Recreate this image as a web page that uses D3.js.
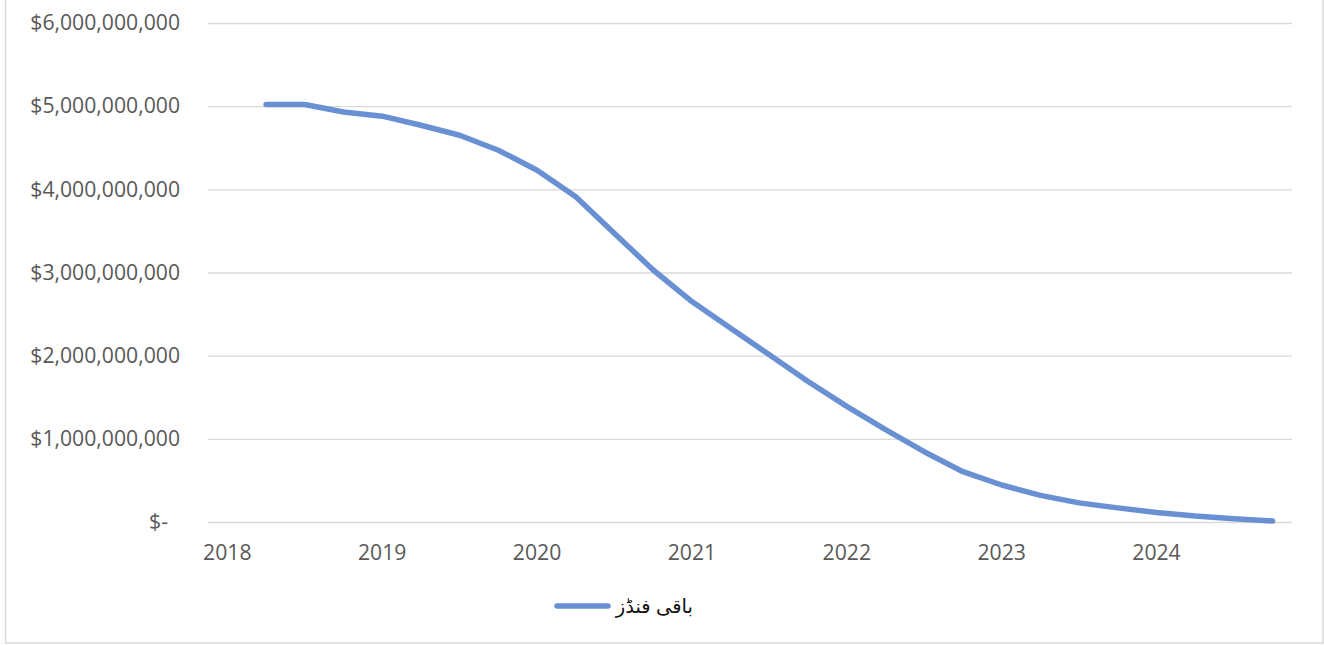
<!DOCTYPE html>
<html>
<head>
<meta charset="utf-8">
<script src="https://cdn.jsdelivr.net/npm/d3@7"></script>
<style>
  html, body { margin: 0; padding: 0; background: #fff; }
  svg { display: block; }
</style>
</head>
<body>
<svg id="chart" width="1324" height="645"></svg>
<script>
// Quarterly categories (the axis shows the year at each first quarter)
const quarters = [
  "2018Q1","2018Q2","2018Q3","2018Q4",
  "2019Q1","2019Q2","2019Q3","2019Q4",
  "2020Q1","2020Q2","2020Q3","2020Q4",
  "2021Q1","2021Q2","2021Q3","2021Q4",
  "2022Q1","2022Q2","2022Q3","2022Q4",
  "2023Q1","2023Q2","2023Q3","2023Q4",
  "2024Q1","2024Q2","2024Q3","2024Q4"
];
const yearLabels = {
  "2018Q1": "2018", "2019Q1": "2019", "2020Q1": "2020", "2021Q1": "2021",
  "2022Q1": "2022", "2023Q1": "2023", "2024Q1": "2024"
};
// Remaining funds (USD)
const remainingFunds = [
  null, 5.02e9, 5.02e9, 4.93e9,
  4.88e9, 4.77e9, 4.65e9, 4.47e9,
  4.23e9, 3.91e9, 3.47e9, 3.03e9,
  2.65e9, 2.33e9, 2.01e9, 1.69e9,
  1.39e9, 1.11e9, 0.845e9, 0.605e9,
  0.445e9, 0.32e9, 0.23e9, 0.17e9,
  0.115e9, 0.072e9, 0.04e9, 0.012e9
];
const yTicks = [0, 1e9, 2e9, 3e9, 4e9, 5e9, 6e9];
const yTickLabels = ["$-", "$1,000,000,000", "$2,000,000,000", "$3,000,000,000",
                     "$4,000,000,000", "$5,000,000,000", "$6,000,000,000"];
const seriesName = "باقی فنڈز";

const svg = d3.select("#chart");
const plot = { left: 208, right: 1292, top: 23, bottom: 522 };
const lineColor = "#6890d2";
const gridColor = "#d9d9d9";
const textColor = "#595959";
const font = "'Open Sans', 'Noto Sans', sans-serif";

// chart border
svg.append("rect")
  .attr("x", 5.5).attr("y", -2)
  .attr("width", 1317.5).attr("height", 645)
  .attr("fill", "none").attr("stroke", gridColor).attr("stroke-width", 1.5);

const x = d3.scaleBand().domain(quarters).range([plot.left, plot.right]).paddingInner(0).paddingOuter(0);
const y = d3.scaleLinear().domain([0, 6e9]).range([plot.bottom, plot.top]);

// gridlines via axis
const yAxis = d3.axisLeft(y)
  .tickValues(yTicks)
  .tickSize(-(plot.right - plot.left))
  .tickPadding(28)
  .tickFormat((d, i) => yTickLabels[i]);

const gy = svg.append("g").attr("transform", `translate(${plot.left},0)`).call(yAxis);
gy.select(".domain").remove();
gy.selectAll(".tick line").attr("stroke", gridColor).attr("stroke-width", 1.3);
gy.selectAll(".tick text")
  .attr("fill", textColor)
  .style("font-family", font)
  .style("font-size", "21.2px")
  .attr("dx", d => d === 0 ? -12 : 0);

// x axis labels
const xAxis = d3.axisBottom(x)
  .tickValues(quarters.filter(q => yearLabels[q]))
  .tickSize(0)
  .tickPadding(23)
  .tickFormat(q => yearLabels[q]);
const gx = svg.append("g").attr("transform", `translate(0,${plot.bottom})`).call(xAxis);
gx.select(".domain").remove();
gx.selectAll(".tick text")
  .attr("fill", textColor)
  .style("font-family", font)
  .style("font-size", "21.2px");

// line
const pts = quarters.map((q, i) => ({ q, v: remainingFunds[i] }));
const line = d3.line()
  .defined(d => d.v !== null)
  .x(d => x(d.q) + x.bandwidth() / 2)
  .y(d => y(d.v));

svg.append("path")
  .datum(pts)
  .attr("d", line)
  .attr("fill", "none")
  .attr("stroke", lineColor)
  .attr("stroke-width", 5.5)
  .attr("stroke-linecap", "round")
  .attr("stroke-linejoin", "round");

// legend
const lg = svg.append("g");
lg.append("line")
  .attr("x1", 557).attr("x2", 608)
  .attr("y1", 606).attr("y2", 606)
  .attr("stroke", lineColor).attr("stroke-width", 5.5)
  .attr("stroke-linecap", "round");
lg.append("text")
  .attr("x", 693).attr("y", 606)
  .attr("dy", "0.35em")
  .attr("text-anchor", "end")
  .attr("fill", "#111")
  .style("font-family", "'Liberation Sans', 'DejaVu Sans', sans-serif")
  .style("font-size", "19.5px")
  .text(seriesName);
</script>
</body>
</html>
